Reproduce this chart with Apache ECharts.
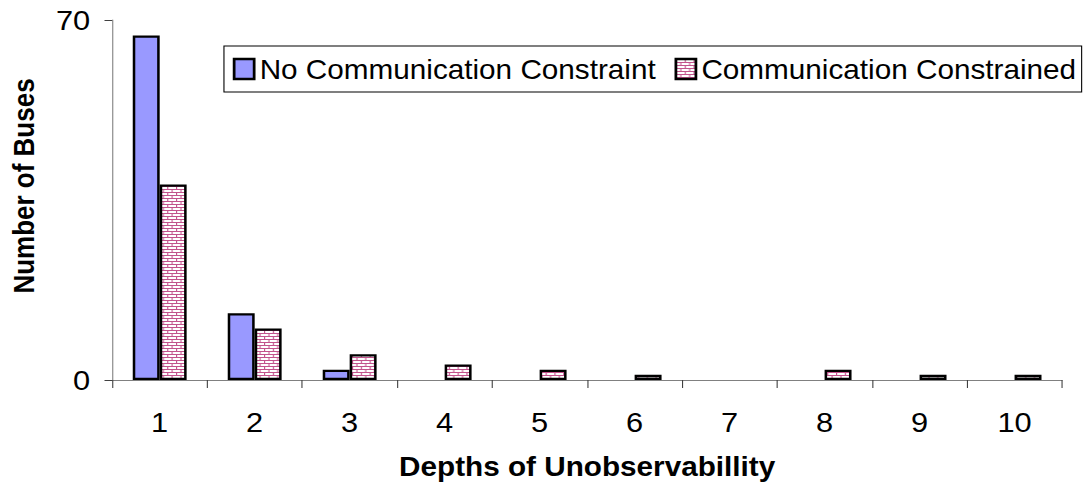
<!DOCTYPE html>
<html>
<head>
<meta charset="utf-8">
<script src="https://cdn.jsdelivr.net/npm/echarts@6/dist/echarts.min.js"></script>
<style>
  html, body { margin: 0; padding: 0; background: #fff; overflow: hidden; }
  #wrap { width: 1083px; height: 493px; overflow: hidden; }
  /* the chart is laid out narrower and widened horizontally, giving the wide lettering */
  #chart { width: 985px; height: 493px; transform: scaleX(1.1); transform-origin: 0 0; }
</style>
</head>
<body>
<div id="wrap"><div id="chart"></div></div>
<script>
const categories = ['1', '2', '3', '4', '5', '6', '7', '8', '9', '10'];
const noConstraint = [67, 13, 2, 0, 0, 0, 0, 0, 0, 0];
const constrained = [38, 10, 5, 3, 2, 1, 0, 2, 1, 1];
const yMin = 0;
const yMax = 70;
const yStep = 70;

const seriesNames = ['No Communication Constraint', 'Communication Constrained'];
const xTitle = 'Depths of Unobservabillity';
const yTitle = 'Number of Buses';

const FONT = 'Liberation Sans, Arial, Helvetica, sans-serif';

// zero counts get no bar at all
const toBar = v => (v === 0 ? null : v);

// small brick tile used as the fill of the constrained series
function brickTile() {
  const c = document.createElement('canvas');
  c.width = 8; c.height = 6;
  const g = c.getContext('2d');
  g.fillStyle = '#ffffff';
  g.fillRect(0, 0, 8, 6);
  g.fillStyle = '#c2538c';
  g.fillRect(0, 0, 8, 1);
  g.fillRect(0, 3, 8, 1);
  g.fillRect(0, 1, 1, 2);
  g.fillRect(4, 4, 1, 2);
  return c;
}

const brick = { image: brickTile(), repeat: 'repeat' };

const chart = echarts.init(document.getElementById('chart'), null, { renderer: 'svg' });

chart.setOption({
  animation: false,
  backgroundColor: '#ffffff',
  textStyle: { fontFamily: FONT, color: '#000' },
  grid: { left: 102, right: 19.5, top: 20, bottom: 113, containLabel: false },
  legend: {
    left: 203.6,
    top: 46,
    padding: [9.5, 5, 9.5, 8],
    icon: 'rect',
    itemWidth: 18.2,
    itemHeight: 20,
    itemGap: 17,
    backgroundColor: '#ffffff',
    borderColor: '#000',
    borderWidth: 1,
    textStyle: { fontFamily: FONT, fontSize: 27, color: '#000' },
    data: [
      { name: seriesNames[0], icon: 'rect', itemStyle: { color: '#9999ff', borderColor: '#000', borderWidth: 2.5 } },
      { name: seriesNames[1], icon: 'rect', itemStyle: { color: brick, borderColor: '#000', borderWidth: 2.5 } }
    ]
  },
  // vertical axis title, set a little above the plot centre
  graphic: [
    {
      type: 'text',
      x: 22,
      y: 186,
      rotation: Math.PI / 2,
      style: {
        text: yTitle,
        font: 'bold 26px ' + FONT,
        fill: '#000',
        align: 'center',
        verticalAlign: 'middle'
      }
    }
  ],
  xAxis: {
    type: 'category',
    data: categories,
    boundaryGap: true,
    axisLine: { show: true, lineStyle: { color: '#808080', width: 1 } },
    axisTick: { show: true, length: 8, alignWithLabel: false, lineStyle: { color: '#404040', width: 1 } },
    axisLabel: { fontFamily: FONT, fontSize: 28, color: '#000', margin: 28 },
    splitLine: { show: false },
    name: xTitle,
    nameLocation: 'middle',
    nameGap: 73,
    nameTextStyle: { fontFamily: FONT, fontSize: 27, fontWeight: 'bold', color: '#000' }
  },
  yAxis: {
    type: 'value',
    min: yMin,
    max: yMax,
    interval: yStep,
    axisLine: { show: true, lineStyle: { color: '#808080', width: 1 } },
    axisTick: { show: true, length: 7, lineStyle: { color: '#404040', width: 1 } },
    axisLabel: { fontFamily: FONT, fontSize: 28, color: '#000', margin: 20 },
    splitLine: { show: false }
  },
  series: [
    {
      name: seriesNames[0],
      type: 'bar',
      data: noConstraint.map(toBar),
      barWidth: 24.5,
      barGap: '0%',
      itemStyle: { color: '#9999ff', borderColor: '#000', borderWidth: 2.3 }
    },
    {
      name: seriesNames[1],
      type: 'bar',
      data: constrained.map(toBar),
      barWidth: 24.5,
      barGap: '0%',
      itemStyle: { color: brick, borderColor: '#000', borderWidth: 2.3 }
    }
  ]
});
</script>
</body>
</html>
